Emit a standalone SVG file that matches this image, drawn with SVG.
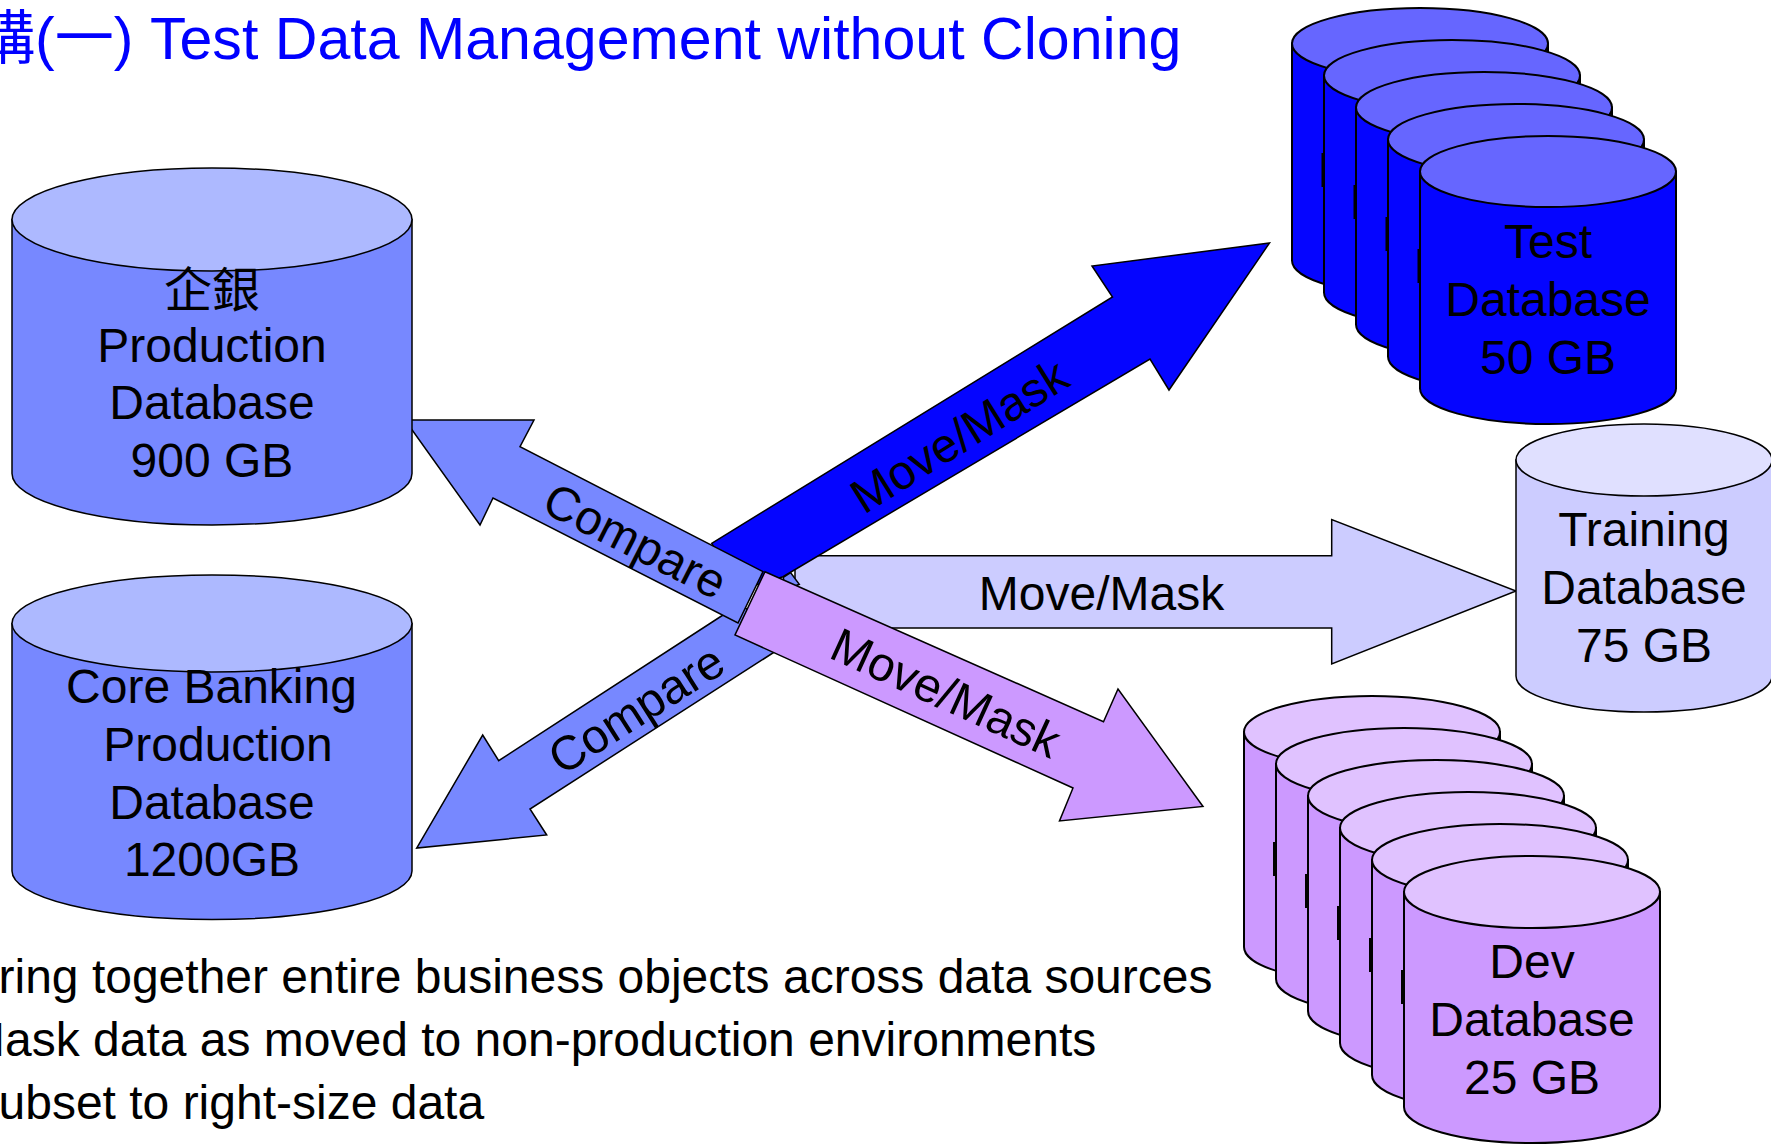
<svg xmlns="http://www.w3.org/2000/svg" xmlns:xlink="http://www.w3.org/1999/xlink" width="1771" height="1144" viewBox="0 0 1771 1144">
<style>
text{font-family:"Liberation Sans","Noto Sans CJK TC",sans-serif;font-size:48px;fill:#000}
.c{text-anchor:middle}
.title{font-size:59.100px;fill:#0000ff}
path,ellipse,polygon{stroke:#000;stroke-width:1.500;stroke-linejoin:miter}
#node-test path,#node-test ellipse,#node-dev path,#node-dev ellipse,.st{stroke-width:2}
.s1{fill:#7788ff}.t1{fill:#adb9ff}
.s2{fill:#0505ff}.t2{fill:#6666ff}
.s3{fill:#ccccff}.t3{fill:#e0e0ff}
.s4{fill:#cc99ff}.t4{fill:#e0c2ff}
</style>
<defs>
<g id="test"><path class="s2 st" d="M0 35.500V252.500A128 35.500 0 0 0 256 252.500V35.500Z"/><ellipse class="t2 st" cx="128" cy="35.500" rx="128" ry="35.500"/></g>
<g id="dev"><path class="s4 st" d="M0 36V251A128 36 0 0 0 256 251V36Z"/><ellipse class="t4 st" cx="128" cy="36" rx="128" ry="36"/></g>
</defs>
<rect width="1771" height="1144" fill="#fff"/>
<text class="title" x="-24" y="59">構(一) Test Data Management without Cloning</text>
<g id="connectors">
<polygon id="arrow-training" class="s3" points="795,555.700 1331.700,555.700 1331.700,519.600 1516,591 1331.700,664 1331.700,628 795,628"/>
<polygon id="arrow-test" class="s2" points="711.700,543.300 1112.500,297 1092,266 1269.500,243 1169,390 1150,359 783,576.700 740,590"/>
<polygon id="arrow-compare-core" class="s1" points="740,604 498.700,760.700 482.700,735 416.700,848 546.700,835 530,809 790,642"/>
<polygon id="arrow-compare-prod" class="s1" points="763,571.700 520,446.700 534,420 405,420 480,525 493,498 738,623"/>
<polygon id="arrow-sliver" class="s1" points="783.300,577.300 790.700,572.700 799.300,584.300 785,590"/>
<polygon id="arrow-dev" class="s4" points="765,571.700 1103.500,721.700 1118,689 1203,806.500 1059.500,821 1073,788 735,635"/>
<text class="c" transform="translate(635.500 540.500) rotate(27)" y="17">Compare</text>
<text class="c" transform="translate(636 709) rotate(-32.500)" y="17">Compare</text>
<text class="c" transform="translate(959 435.500) rotate(-32)" y="17">Move/Mask</text>
<text class="c" transform="translate(946 692.500) rotate(24.500)" y="17">Move/Mask</text>
<text class="c" x="1101.500" y="610">Move/Mask</text>
</g>
<g id="node-prod">
<path class="s1" d="M12 219.500V473.500A200 51.500 0 0 0 412 473.500V219.500Z"/>
<ellipse class="t1" cx="212" cy="219.500" rx="200" ry="51.500"/>
<text class="c" x="212" y="307">企銀</text>
<text class="c" x="212" y="362">Production</text>
<text class="c" x="212" y="419">Database</text>
<text class="c" x="212" y="477">900 GB</text>
</g>
<g id="node-core">
<path class="s1" d="M12 623.500V871A200 48.500 0 0 0 412 871V623.500Z"/>
<ellipse class="t1" cx="212" cy="623.500" rx="200" ry="48.500"/>
<text class="c" x="211.500" y="703">Core Banking</text>
<text class="c" x="218" y="761">Production</text>
<text class="c" x="212" y="818.500">Database</text>
<text class="c" x="212" y="876">1200GB</text>
</g>
<g id="node-test">
<use xlink:href="#test" href="#test" x="1292" y="8"/><rect x="1321.500" y="153" width="3" height="34"/>
<use xlink:href="#test" href="#test" x="1324" y="40"/><rect x="1353.500" y="185" width="3" height="34"/>
<use xlink:href="#test" href="#test" x="1356" y="72"/><rect x="1385.500" y="217" width="3" height="34"/>
<use xlink:href="#test" href="#test" x="1388" y="104"/><rect x="1417.500" y="249" width="3" height="34"/>
<use xlink:href="#test" href="#test" x="1420" y="136"/>
<text class="c" x="1548" y="258">Test</text>
<text class="c" x="1548" y="316">Database</text>
<text class="c" x="1548" y="374">50 GB</text>
</g>
<g id="node-training">
<path class="s3" d="M1516 460V676A128 36 0 0 0 1772 676V460Z"/>
<ellipse class="t3" cx="1644" cy="460" rx="128" ry="36"/>
<text class="c" x="1644" y="546">Training</text>
<text class="c" x="1644" y="603.500">Database</text>
<text class="c" x="1644" y="662">75 GB</text>
</g>
<g id="node-dev">
<use xlink:href="#dev" href="#dev" x="1244" y="696"/><rect x="1273" y="842" width="3" height="34"/>
<use xlink:href="#dev" href="#dev" x="1276" y="728"/><rect x="1305" y="874" width="3" height="34"/>
<use xlink:href="#dev" href="#dev" x="1308" y="760"/><rect x="1337" y="906" width="3" height="34"/>
<use xlink:href="#dev" href="#dev" x="1340" y="792"/><rect x="1369" y="938" width="3" height="34"/>
<use xlink:href="#dev" href="#dev" x="1372" y="824"/><rect x="1401" y="970" width="3" height="34"/>
<use xlink:href="#dev" href="#dev" x="1404" y="856"/>
<text class="c" x="1532" y="978">Dev</text>
<text class="c" x="1532" y="1036">Database</text>
<text class="c" x="1532" y="1094">25 GB</text>
</g>
<text x="-1.500" y="993">ring together entire business objects across data sources</text>
<text x="-35" y="1056">Mask data as moved to non-production environments</text>
<text x="-1.500" y="1119">ubset to right-size data</text>
</svg>
